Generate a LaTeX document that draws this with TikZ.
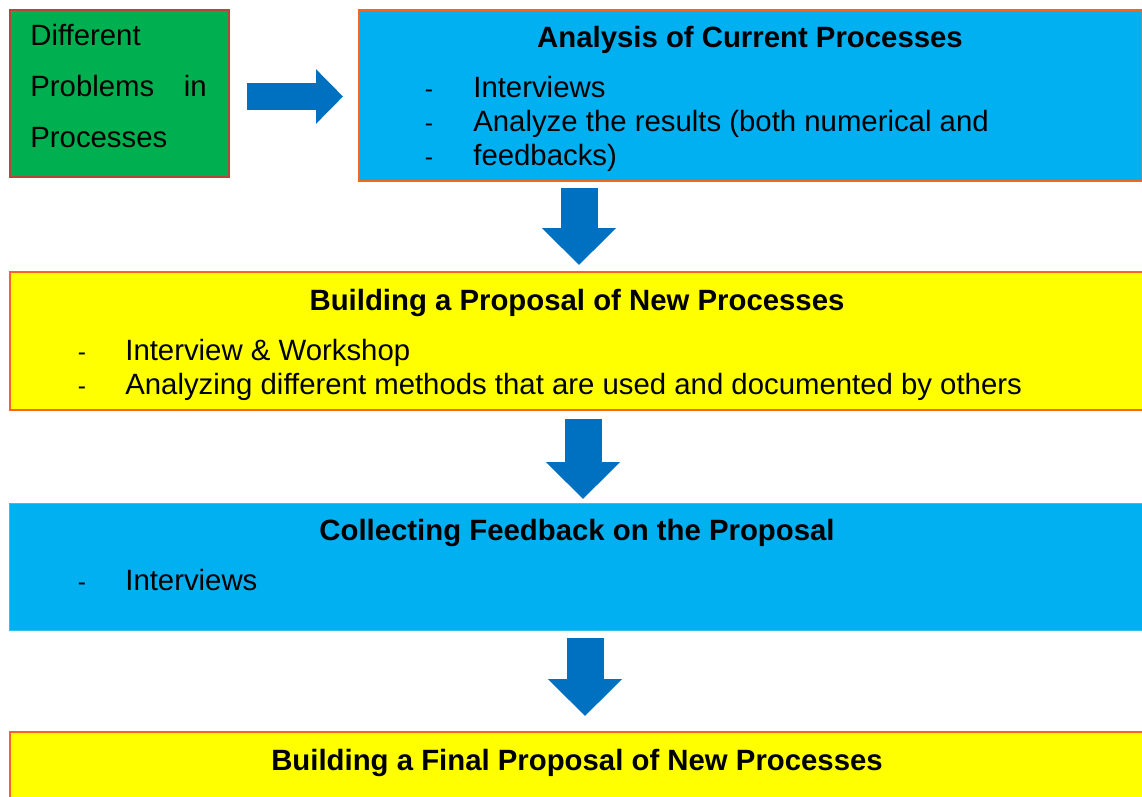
\documentclass[tikz,border=0pt]{standalone}
\usepackage{fontspec}
\setmainfont{Liberation Sans}
\usetikzlibrary{arrows.meta}
\definecolor{probgreen}{HTML}{00B050}
\definecolor{stepblue}{HTML}{00B0F0}
\definecolor{stepyellow}{HTML}{FFFF00}
\definecolor{rimorange}{RGB}{250,100,30}
\definecolor{rimred}{RGB}{180,70,65}
\definecolor{arrowblue}{HTML}{0070C0}
\tikzset{
  panel/.style={draw=rimorange, line width=1.1pt, inner sep=0pt, anchor=north west},
  head/.style={font=\fontsize{16.7}{20}\selectfont\bfseries, anchor=base, inner sep=0pt},
  item/.style={font=\fontsize{16.7}{20}\selectfont, anchor=base west, inner sep=0pt},
  bulletmark/.style={font=\fontsize{14}{20}\selectfont, anchor=base, inner sep=0pt},
  fatdown/.style={arrowblue, line width=0.74cm, -{Triangle[length=0.74cm, width=1.44cm]}},
  fatright/.style={arrowblue, line width=0.54cm, -{Triangle[length=0.54cm, width=1.06cm]}}
}
\begin{document}
\begin{tikzpicture}[x=0.02cm, y=-0.02cm]
\useasboundingbox (0,0) rectangle (1142,796);
\clip (0,0) rectangle (1142,796);

% boxes
\node[panel, draw=rimred, fill=probgreen, minimum width=4.38cm, minimum height=3.34cm] (problems) at (9,9) {};
\node[panel, fill=stepblue, minimum width=15.66cm, minimum height=3.42cm] (analysis) at (358,9) {};
\node[panel, fill=stepyellow, minimum width=22.66cm, minimum height=2.76cm] (proposal) at (9,271) {};
\node[panel, draw=stepblue!80!white, line width=0.4pt, fill=stepblue, minimum width=22.66cm, minimum height=2.54cm] (feedback) at (9,503) {};
\node[panel, fill=stepyellow, minimum width=22.66cm, minimum height=2cm] (final) at (9,731) {};

% green box text
\node[item] (p1) at (30,45) {Different};
\node[item] (p2) at (30,96) {Problems};
\node[item, anchor=base east] (p3) at (207,96) {in};
\node[item] (p4) at (30,147) {Processes};

% analysis of current processes
\node[head] (t1) at (750,47) {Analysis of Current Processes};
\node[bulletmark] (d11) at (429,97) {-};
\node[bulletmark] (d12) at (429,131) {-};
\node[bulletmark] (d13) at (429,165) {-};
\node[item] (i11) at (473,97) {Interviews};
\node[item] (i12) at (473,131) {Analyze the results (both numerical and};
\node[item] (i13) at (473,165) {feedbacks)};

% proposal
\node[head] (t2) at (577,310) {Building a Proposal of New Processes};
\node[bulletmark] (d21) at (82,360) {-};
\node[bulletmark] (d22) at (82,394) {-};
\node[item] (i21) at (125,360) {Interview \& Workshop};
\node[item] (i22) at (125,394) {Analyzing different methods that are used and documented by others};

% feedback
\node[head] (t3) at (577,540) {Collecting Feedback on the Proposal};
\node[bulletmark] (d31) at (82,590) {-};
\node[item] (i31) at (125,590) {Interviews};

% final proposal
\node[head] (t4) at (577,770) {Building a Final Proposal of New Processes};

% arrows
\coordinate (r0) at (247,96.5);
\coordinate (r1) at (343,96.5);
\coordinate (a0) at (579,188);
\coordinate (a1) at (579,265);
\coordinate (b0) at (583,419);
\coordinate (b1) at (583,499);
\coordinate (c0) at (585,638);
\coordinate (c1) at (585,716);
\draw[fatright] (r0) -- (r1);
\draw[fatdown] (a0) -- (a1);
\draw[fatdown] (b0) -- (b1);
\draw[fatdown] (c0) -- (c1);
\end{tikzpicture}
\end{document}
